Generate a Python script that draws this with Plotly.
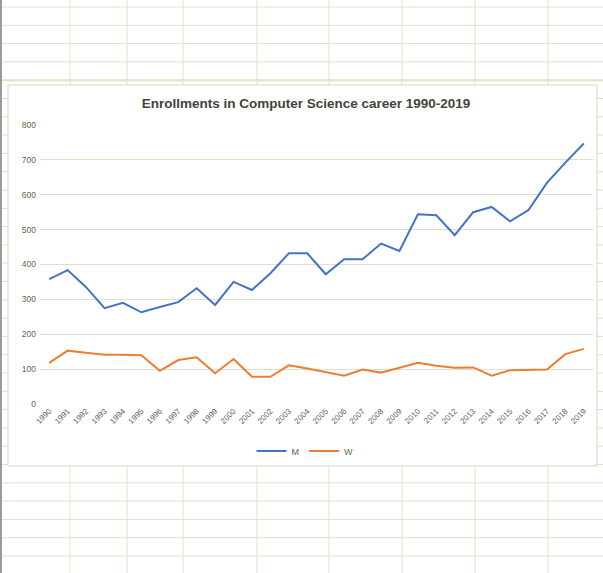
"""Enrollments in Computer Science career 1990-2019, Excel-style line chart."""

import plotly.graph_objects as go

years = [str(y) for y in range(1990, 2020)]
men = [358, 384, 335, 275, 290, 263, 278, 292, 332, 284,
       350, 327, 375, 432, 432, 372, 415, 415, 460, 439,
       544, 541, 484, 550, 565, 524, 556, 634, 692, 747]
women = [118, 153, 147, 141, 141, 140, 95, 126, 134, 88,
         129, 78, 78, 111, 102, 91, 81, 99, 90, 104,
         118, 110, 104, 105, 81, 97, 99, 99, 143, 158]

W, H = 603, 573
# plot area in pixels
L, R, T, B = 40, 593, 125, 404

text_col = "#67644f"
grid_col = "#e2dfc9"
sheet_col = "#e3e0c6"


def px(x):
    return (x - L) / (R - L)


def py(y):
    return (B - y) / (B - T)


shapes = []
# spreadsheet grid behind the chart
for k in range(32):
    y = 7 + 18.3 * k
    shapes.append(dict(type="line", xref="paper", yref="paper",
                       x0=px(0), x1=px(W), y0=py(y), y1=py(y),
                       line=dict(color=sheet_col, width=2 if k == 4 else 1),
                       layer="below"))
for x in [70, 127, 183, 257, 329, 402, 475, 548]:
    shapes.append(dict(type="line", xref="paper", yref="paper",
                       x0=px(x), x1=px(x), y0=py(0), y1=py(H),
                       line=dict(color=sheet_col, width=1), layer="below"))
shapes.append(dict(type="line", xref="paper", yref="paper",
                   x0=px(1), x1=px(1), y0=py(0), y1=py(H),
                   line=dict(color="#9a9a9a", width=2), layer="below"))
# chart box
shapes.append(dict(type="rect", xref="paper", yref="paper",
                   x0=px(8), x1=px(597), y0=py(85), y1=py(466),
                   fillcolor="white", line=dict(color="#d8d5bf", width=1),
                   layer="below"))

fig = go.Figure()
fig.add_trace(go.Scatter(x=years, y=men, name="M", mode="lines",
                         line=dict(color="#4472C4", width=2)))
fig.add_trace(go.Scatter(x=years, y=women, name="W", mode="lines",
                         line=dict(color="#ED7D31", width=2)))

fig.update_layout(
    width=W, height=H,
    margin=dict(l=L, r=W - R, t=T, b=H - B, pad=0),
    paper_bgcolor="white",
    plot_bgcolor="rgba(0,0,0,0)",
    shapes=shapes,
    font=dict(family="Liberation Sans", color=text_col),
    title=dict(text="<b>Enrollments in Computer Science career 1990-2019</b>",
               x=306 / W, xanchor="center", xref="container",
               y=1 - 103 / H, yanchor="middle", yref="container",
               font=dict(size=13.5, color="#45433a")),
    xaxis=dict(type="category", range=[-0.5, 29.5], showgrid=False,
               zeroline=False, showline=False, ticks="", tickangle=-45,
               tickfont=dict(size=8, color=text_col)),
    yaxis=dict(range=[0, 800], dtick=100, showgrid=True, gridcolor=grid_col,
               gridwidth=1, zeroline=False, showline=False, ticks="",
               ticklabelstandoff=3,
               tickfont=dict(size=8.5, color=text_col)),
    legend=dict(orientation="h", x=px(305), xanchor="center",
                y=py(451), yanchor="middle",
                font=dict(size=9, color=text_col),
                bgcolor="rgba(0,0,0,0)"),
    showlegend=True,
)

# the page's default body margin would shift the whole figure by 8px
fig.write_html("out.html", config={"displayModeBar": False},
               post_script="document.body.style.margin='0';")
